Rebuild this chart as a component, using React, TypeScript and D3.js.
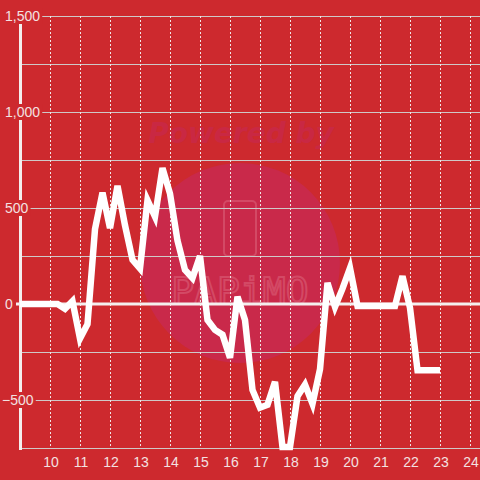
import { useRef, useEffect } from "react";
import * as d3 from "d3";

// hour of day (decimal) for each reading, every quarter hour
const hours = [
    9, 9.25, 9.5, 9.75, 10, 10.25, 10.5, 10.75, 11, 11.25, 11.5, 11.75,
    12, 12.25, 12.5, 12.75, 13, 13.25, 13.5, 13.75, 14, 14.25, 14.5, 14.75,
    15, 15.25, 15.5, 15.75, 16, 16.25, 16.5, 16.75, 17, 17.25, 17.5, 17.75,
    18, 18.25, 18.5, 18.75, 19, 19.25, 19.5, 19.75, 20, 20.25, 20.5, 20.75,
    21, 21.25, 21.5, 21.75, 22, 22.25, 22.5, 22.75, 23,
];

const values = [
    0, 0, 0, 0, 0, 0, -25, 15, -180, -105, 390, 580,
    395, 615, 410, 230, 185, 540, 455, 708, 575, 330, 177, 135,
    250, -83, -135, -160, -280, 38, -83, -448, -540, -525, -405, -745,
    -745, -480, -420, -520, -340, 110, -15, 80, 187, -10, -10, -10,
    -10, -10, -10, 145, -20, -345, -345, -345, -345,
];

const yLabelTicks = [-500, 0, 500, 1000, 1500];
const yGridTicks = [-750, -500, -250, 250, 500, 750, 1000, 1250, 1500];
const xTicks = [10, 11, 12, 13, 14, 15, 16, 17, 18, 19, 20, 21, 22, 23, 24];

const BG = "#cd292e";
const TEXT = "#f3e1e1";
const FONT = "'Liberation Sans', Arial, sans-serif";

const App = () => {
    const svgRef = useRef<SVGSVGElement>(null);

    useEffect(() => {
        document.body.style.margin = "0";
        const svg = d3.select(svgRef.current);
        svg.selectAll("*").remove();

        const width = 480;
        const height = 480;

        const x = d3.scaleLinear().domain([9, 24 + 1 / 3]).range([20, 480]);
        const y = d3.scaleLinear().domain([-750, 1500]).range([448, 16]);

        svg.append("rect").attr("width", width).attr("height", height).attr("fill", BG);

        // watermark
        const wm = svg.append("g");
        wm.append("circle").attr("cx", 240).attr("cy", 263).attr("r", 100).attr("fill", "#c9294a");
        wm.append("text")
            .attr("x", 241).attr("y", 143)
            .attr("text-anchor", "middle")
            .attr("font-family", "'DejaVu Sans', sans-serif")
            .attr("font-weight", "bold")
            .attr("font-style", "italic")
            .attr("font-size", 28)
            .attr("fill", "#c92843")
            .text("Powered by");
        wm.append("rect")
            .attr("x", 224).attr("y", 201).attr("width", 32).attr("height", 55).attr("rx", 4)
            .attr("fill", "none").attr("stroke", "#de6a80").attr("stroke-opacity", 0.5).attr("stroke-width", 2);
        wm.append("text")
            .attr("x", 240).attr("y", 304)
            .attr("text-anchor", "middle")
            .attr("font-family", "'DejaVu Sans Mono', monospace")
            .attr("font-size", 38)
            .attr("fill", "none")
            .attr("stroke", "#de6a80").attr("stroke-opacity", 0.5).attr("stroke-width", 2)
            .text("PAPiMO");

        // horizontal grid
        svg.append("g").selectAll("line").data(yGridTicks).join("line")
            .attr("x1", 20).attr("x2", width)
            .attr("y1", d => y(d) + 0.5).attr("y2", d => y(d) + 0.5)
            .attr("stroke", "#cfc8c8").attr("stroke-width", 1);

        // vertical dashed grid
        svg.append("g").selectAll("line").data(xTicks).join("line")
            .attr("x1", d => x(d) + 0.5).attr("x2", d => x(d) + 0.5)
            .attr("y1", 16).attr("y2", 448)
            .attr("stroke", "#f0e6e6").attr("stroke-width", 1)
            .attr("stroke-dasharray", "2,2");

        // zero line and y axis
        svg.append("line")
            .attr("x1", 16).attr("x2", width).attr("y1", y(0)).attr("y2", y(0))
            .attr("stroke", "#f4eeee").attr("stroke-width", 3);
        svg.append("line")
            .attr("x1", 20.5).attr("x2", 20.5).attr("y1", 16).attr("y2", 450)
            .attr("stroke", "#f4eeee").attr("stroke-width", 3);

        // y labels with background
        const fmt = d3.format(",");
        const yl = svg.append("g");
        yLabelTicks.forEach(t => {
            const g = yl.append("g");
            const txt = g.append("text")
                .attr("x", t < 0 ? 2 : 5).attr("y", y(t))
                .attr("dy", "0.35em")
                .attr("font-family", FONT).attr("font-size", 14)
                .attr("fill", TEXT)
                .text(fmt(t));
            const bb = (txt.node() as SVGTextElement).getBBox();
            g.insert("rect", "text")
                .attr("x", bb.x - 2).attr("y", y(t) - 8)
                .attr("width", bb.width + 4).attr("height", 16)
                .attr("fill", BG);
        });

        // x labels
        svg.append("g").selectAll("text").data(xTicks).join("text")
            .attr("x", d => x(d) + 1).attr("y", 462)
            .attr("dy", "0.35em")
            .attr("text-anchor", "middle")
            .attr("font-family", FONT).attr("font-size", 14)
            .attr("fill", TEXT)
            .text(d => d);

        // series
        const data = hours.map((h, i) => ({ h, v: values[i] }));
        const line = d3.line<{ h: number; v: number }>()
            .x(d => x(d.h))
            .y(d => y(d.v));
        svg.append("path")
            .datum(data)
            .attr("fill", "none")
            .attr("stroke", "#ffffff")
            .attr("stroke-width", 6.5)
            .attr("stroke-linejoin", "miter")
            .attr("d", line);
    }, []);

    return (
        <svg
            ref={svgRef}
            width={480}
            height={480}
            style={{ position: "absolute", left: 0, top: 0, display: "block" }}
        ></svg>
    );
};

export default App;
